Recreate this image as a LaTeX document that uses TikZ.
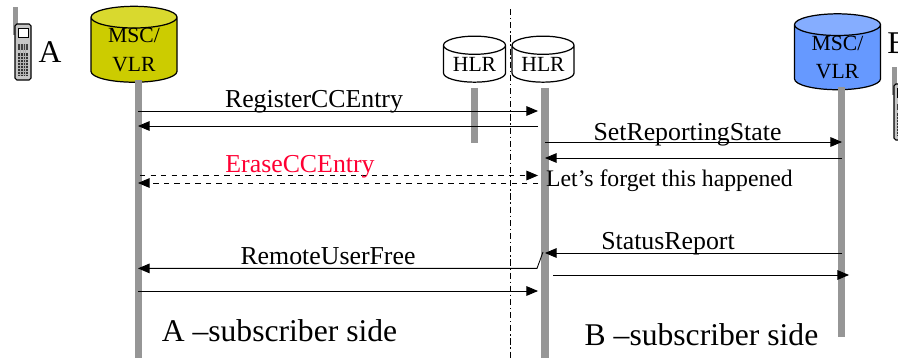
\documentclass[tikz,border=0pt]{standalone}
\usepackage{fontspec}
\setmainfont{Liberation Serif}
\usetikzlibrary{arrows, shapes.geometric, positioning}
\definecolor{lifegray}{HTML}{969696}
\definecolor{mscyellow}{HTML}{CCCC00}
\definecolor{mscyellowtop}{HTML}{D9D92E}
\definecolor{mscblue}{HTML}{6699FF}
\definecolor{mscbluetop}{HTML}{85ADFF}
\definecolor{erasered}{HTML}{FF0033}
\newcommand{\drawm}{\draw[line width=0.5pt]}
\newcommand{\drawl}{\draw[line width=4pt,color=lifegray]}
\newcommand{\drawphone}[1]{
\begin{scope}[shift={#1}]
\fill[color=lifegray] (-2,-17) rectangle (3,11);
\draw[line width=0.6pt,fill=gray!45,rounded corners=1pt] (0,0) rectangle (16,56);
\draw[line width=0.5pt,fill=white] (3,4) rectangle (13,13);
\fill[color=black!75] (3,20) rectangle (13,26);
\fill[color=black!80] (3,29) rectangle (13,52);
\foreach \y in {32,35,...,50} \draw[color=gray!60,line width=0.25pt] (3,\y) -- (13,\y);
\foreach \x in {5.5,8,10.5} \draw[color=gray!60,line width=0.25pt] (\x,20) -- (\x,52);
\end{scope}}
\tikzset{
  dbnode/.style={cylinder, shape border rotate=90, aspect=0.42, draw, line width=0.7pt, align=center, inner sep=0pt, font=\fontsize{12.3}{16}\selectfont, cylinder uses custom fill},
  msgtext/.style={font=\fontsize{14.7}{17}\selectfont, inner sep=0pt},
  sidetext/.style={font=\fontsize{18}{21}\selectfont, inner sep=0pt}
}
\begin{document}
\begin{tikzpicture}[>=triangle 45, x=0.02cm, y=-0.02cm]
\useasboundingbox (0,0) rectangle (898,358);
\clip (0,0) rectangle (898,358);

% Phones and their letters
\drawphone{(15,24)}
\drawphone{(894,84)}
\node[sidetext] (letterA) at (50,52) {A};
\node[sidetext] (letterB) at (898,43) {B};

% Lifelines
\node[dbnode, cylinder end fill=mscyellowtop, cylinder body fill=mscyellow, minimum width=86*0.02cm, minimum height=63*0.02cm] (mscA) at (134,50) {MSC/\\VLR};
\node[dbnode, cylinder end fill=mscbluetop, cylinder body fill=mscblue, minimum width=86*0.02cm, minimum height=63*0.02cm] (mscB) at (837.5,57.5) {MSC/\\VLR};
\node[dbnode, cylinder end fill=white, cylinder body fill=white, minimum width=62*0.02cm, minimum height=46*0.02cm] (hlrL) at (474.5,64) {\raisebox{-3.4pt}{HLR}};
\node[dbnode, cylinder end fill=white, cylinder body fill=white, minimum width=62*0.02cm, minimum height=46*0.02cm] (hlrR) at (543,64) {\raisebox{-3.4pt}{HLR}};

\coordinate (lifeAend) at (138.5,358);
\coordinate (lifeBtop) at (841.5,87);
\coordinate (lifeBend) at (841.5,337);
\coordinate (hlrLtop) at (474.5,88);
\coordinate (hlrLend) at (474.5,143);
\coordinate (hlrRtop) at (545,88);
\coordinate (hlrRend) at (545,358);
\coordinate (lifeAtop) at (138.5,80);
\drawl (lifeAtop) -- (lifeAend);
\drawl (lifeBtop) -- (lifeBend);
\drawl (hlrLtop) -- (hlrLend);
\drawl (hlrRtop) -- (hlrRend);

% Dividing line
\coordinate (divtop) at (510,9);
\coordinate (divend) at (510,358);
\draw[line width=0.5pt,dash pattern=on 3.5pt off 1.6pt on 0.8pt off 1.6pt] (divtop) -- (divend);

% Left messages
\coordinate (regA) at (138,111);
\coordinate (regH) at (538,111);
\coordinate (regbackH) at (538,126);
\coordinate (regbackA) at (138,126);
\drawm[->] (regA) -- (regH);
\drawm[->] (regbackH) -- (regbackA);
\node[msgtext] (regtext) at (314,102) {RegisterCCEntry};

\coordinate (eraseA) at (140,175.5);
\coordinate (eraseH) at (538,175.5);
\coordinate (erasebackH) at (538,183);
\coordinate (erasebackA) at (138,183);
\drawm[dashed,->] (eraseA) -- (eraseH);
\drawm[dashed,->] (erasebackH) -- (erasebackA);
\node[msgtext,color=erasered] (erasetext) at (300,167) {EraseCCEntry};

\coordinate (kinktop) at (543,252);
\coordinate (kinkbot) at (537,268.4);
\coordinate (freeA) at (138,268.4);
\drawm[->] (kinktop) -- (kinkbot) -- (freeA);
\node[msgtext] (freetext) at (328,256) {RemoteUserFree};

\coordinate (lastA) at (138,291);
\coordinate (lastH) at (538,291);
\drawm[->] (lastA) -- (lastH);

% Right messages
\coordinate (setH) at (545,142);
\coordinate (setV) at (842,142);
\coordinate (setbackV) at (842,158);
\coordinate (setbackH) at (545,158);
\drawm[->] (setH) -- (setV);
\drawm[->] (setbackV) -- (setbackH);
\node[msgtext] (settext) at (687.5,135) {SetReportingState};
\node[msgtext,font=\fontsize{13.5}{16}\selectfont] (forgettext) at (669.5,181) {Let’s forget this happened};

\coordinate (statV) at (842,253);
\coordinate (statH) at (545,253);
\coordinate (nextH) at (553,275);
\coordinate (nextV) at (849,275);
\drawm[->] (statV) -- (statH);
\drawm[->] (nextH) -- (nextV);
\node[msgtext] (stattext) at (668,244) {StatusReport};

% Side captions
\node[sidetext] (sideA) at (279.5,331) {A –subscriber side};
\node[sidetext] (sideB) at (701.5,335) {B –subscriber side};
\end{tikzpicture}
\end{document}
